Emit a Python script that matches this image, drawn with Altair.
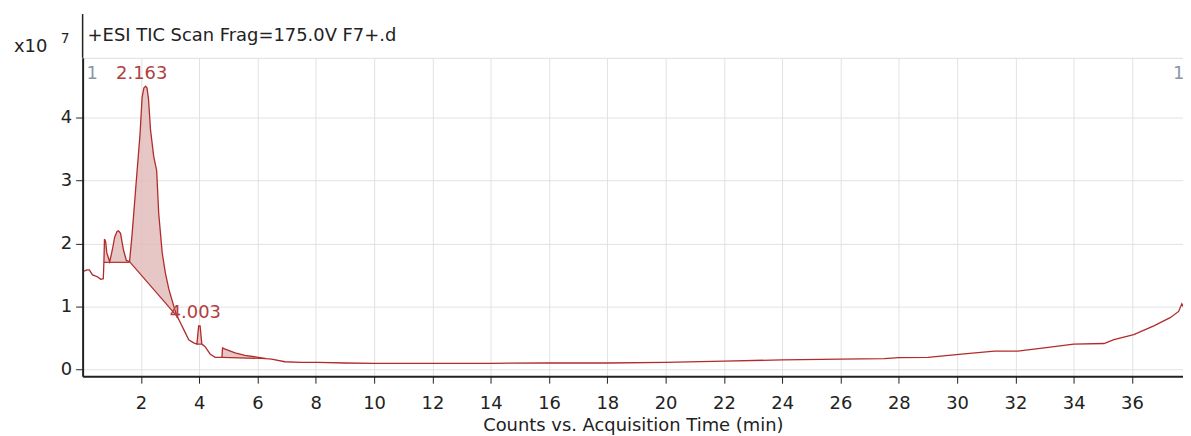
import altair as alt
import pandas as pd
import numpy as np

# Chromatogram trace (time in min, counts in units of 1e7)
time_min = [0.05, 0.15, 0.23, 0.34, 0.45, 0.51, 0.62, 0.71, 0.73, 0.75, 0.79, 0.83,
            0.93, 1.02, 1.10, 1.18, 1.23, 1.30, 1.40, 1.50, 1.61, 1.70, 1.80, 1.87,
            1.97, 2.04, 2.10, 2.16, 2.21, 2.26, 2.33, 2.44, 2.54, 2.61, 2.73, 2.84,
            2.96, 3.13, 3.24, 3.30, 3.47, 3.64, 3.81, 3.92, 3.98, 4.03, 4.09, 4.20,
            4.38, 4.55, 4.78, 4.80, 4.89, 5.23, 5.57, 6.03, 6.30, 6.48, 6.94, 7.5,
            8.07, 9.0, 10.0, 12.0, 14.0, 16.0, 18.0, 20.0, 22.0, 24.0, 26.0, 27.5,
            28.0, 29.0, 30.15, 31.28, 32.08, 32.99, 34.0, 35.04, 35.38, 36.06, 36.75,
            37.31, 37.6, 37.71, 37.75]
counts_e7 = [1.56, 1.58, 1.58, 1.50, 1.48, 1.47, 1.43, 1.44, 1.70, 2.07, 2.03, 1.85,
             1.71, 1.90, 2.10, 2.19, 2.20, 2.16, 1.90, 1.73, 1.71, 2.16, 2.75, 3.16,
             3.74, 4.32, 4.47, 4.50, 4.47, 4.30, 3.80, 3.38, 3.16, 2.48, 1.85, 1.53,
             1.27, 1.00, 0.84, 0.79, 0.63, 0.47, 0.42, 0.40, 0.69, 0.69, 0.40, 0.36,
             0.24, 0.19, 0.19, 0.34, 0.32, 0.26, 0.22, 0.19, 0.17, 0.16, 0.12, 0.11,
             0.11, 0.10, 0.095, 0.095, 0.095, 0.10, 0.10, 0.11, 0.13, 0.15, 0.16, 0.17,
             0.185, 0.19, 0.24, 0.29, 0.29, 0.34, 0.40, 0.41, 0.47, 0.55, 0.69,
             0.82, 0.92, 1.04, 1.00]

# Integrated peaks: baseline endpoints
peak_names = ["A", "B", "C", "D"]
peak_start_t = [0.73, 1.61, 3.92, 4.78]
peak_start_y = [1.70, 1.71, 0.40, 0.19]
peak_end_t = [1.61, 3.24, 4.09, 6.30]
peak_end_y = [1.70, 0.84, 0.40, 0.17]

# Peak labels
label_text = ["2.163", "4.003"]
label_t = [2.163, 4.003]
label_y = [4.70, 0.90]

# Scan markers
marker_text = ["1", "1"]
marker_t = [0.33, 37.6]
marker_y = [4.70, 4.70]

title_text = "+ESI TIC Scan Frag=175.0V F7+.d"
x_ticks = list(range(2, 37, 2))
y_ticks = [0, 1, 2, 3, 4]

FONT = "DejaVu Sans"
RED = "#b22b2b"

curve = pd.DataFrame({"t": time_min, "y": counts_e7})

fill_rows = []
t_arr = np.array(time_min)
y_arr = np.array(counts_e7)
for name, ts, ys, te, ye in zip(peak_names, peak_start_t, peak_start_y, peak_end_t, peak_end_y):
    mask = (t_arr >= ts) & (t_arr <= te)
    for t, y in zip(t_arr[mask], y_arr[mask]):
        base = float(np.interp(t, [ts, te], [ys, ye]))
        fill_rows.append({"peak": name, "t": float(t), "y": float(y), "base": base})
fills = pd.DataFrame(fill_rows)

baselines = pd.DataFrame({"peak": peak_names, "t0": peak_start_t, "y0": peak_start_y,
                          "t1": peak_end_t, "y1": peak_end_y})
labels = pd.DataFrame({"text": label_text, "t": label_t, "y": label_y})
markers = pd.DataFrame({"text": marker_text, "t": marker_t, "y": marker_y})
one = pd.DataFrame({"k": [0]})

xscale = alt.Scale(domain=[0, 37.75], nice=False, zero=False)
yscale = alt.Scale(domain=[-0.11, 4.95], nice=False, zero=False)

xaxis = alt.Axis(values=x_ticks, title="Counts vs. Acquisition Time (min)", format="d",
                 grid=True, gridColor="#e2e2e2", tickSize=7, labelPadding=11,
                 titlePadding=5, labelFontSize=18, titleFontSize=18,
                 labelFont=FONT, titleFont=FONT, labelColor="#222", titleColor="#222",
                 domainColor="#222", domainWidth=2, tickColor="#222",
                 titleFontWeight="normal")
yaxis = alt.Axis(values=y_ticks, title=None, format="d", grid=True, gridColor="#e2e2e2",
                 tickSize=7, labelPadding=4, labelFontSize=18, labelFont=FONT,
                 labelColor="#222", domainColor="#222", domainWidth=2, tickColor="#222")

base_line = alt.Chart(curve).mark_line(color=RED, strokeWidth=1.3).encode(
    x=alt.X("t:Q", scale=xscale, axis=xaxis),
    y=alt.Y("y:Q", scale=yscale, axis=yaxis),
)

fill_layer = alt.Chart(fills).mark_area(color="#e3bcbc", opacity=0.85).encode(
    x="t:Q", y="y:Q", y2="base:Q", detail="peak:N"
)

baseline_layer = alt.Chart(baselines).mark_rule(color=RED, strokeWidth=1.2).encode(
    x="t0:Q", y="y0:Q", x2="t1:Q", y2="y1:Q"
)

label_layer = alt.Chart(labels).mark_text(color="#b04040", fontSize=18, font=FONT,
                                          baseline="middle", align="center", dx=-4).encode(
    x="t:Q", y="y:Q", text="text:N"
)

marker_layer = alt.Chart(markers).mark_text(color="#8a96a6", fontSize=18, font=FONT,
                                            baseline="middle", align="center").encode(
    x="t:Q", y="y:Q", text="text:N"
)

title_layer = alt.Chart(one).mark_text(align="left", baseline="middle", fontSize=18,
                                       font=FONT, color="#222").encode(
    x=alt.value(5), y=alt.value(-22), text=alt.value(title_text)
)
x10_layer = alt.Chart(one).mark_text(align="left", baseline="middle", fontSize=18,
                                     font=FONT, color="#222").encode(
    x=alt.value(-69), y=alt.value(-11), text=alt.value("x10")
)
exp_layer = alt.Chart(one).mark_text(align="left", baseline="middle", fontSize=14,
                                     font=FONT, color="#222").encode(
    x=alt.value(-22), y=alt.value(-19), text=alt.value("7")
)
axis_ext = alt.Chart(one).mark_rule(color="#222", strokeWidth=1.5).encode(
    x=alt.value(0), y=alt.value(-44), y2=alt.value(0)
)

chart = alt.layer(
    fill_layer, baseline_layer, base_line, label_layer, marker_layer,
    title_layer, x10_layer, exp_layer, axis_ext
).properties(
    width=1106, height=320,
    autosize=alt.AutoSizeParams(type="none"),
    padding={"left": 75, "top": 49, "right": 0, "bottom": 59},
).configure_view(stroke=None).configure(background="white")

chart.save("out.html", embed_options={"renderer": "svg", "actions": False})
